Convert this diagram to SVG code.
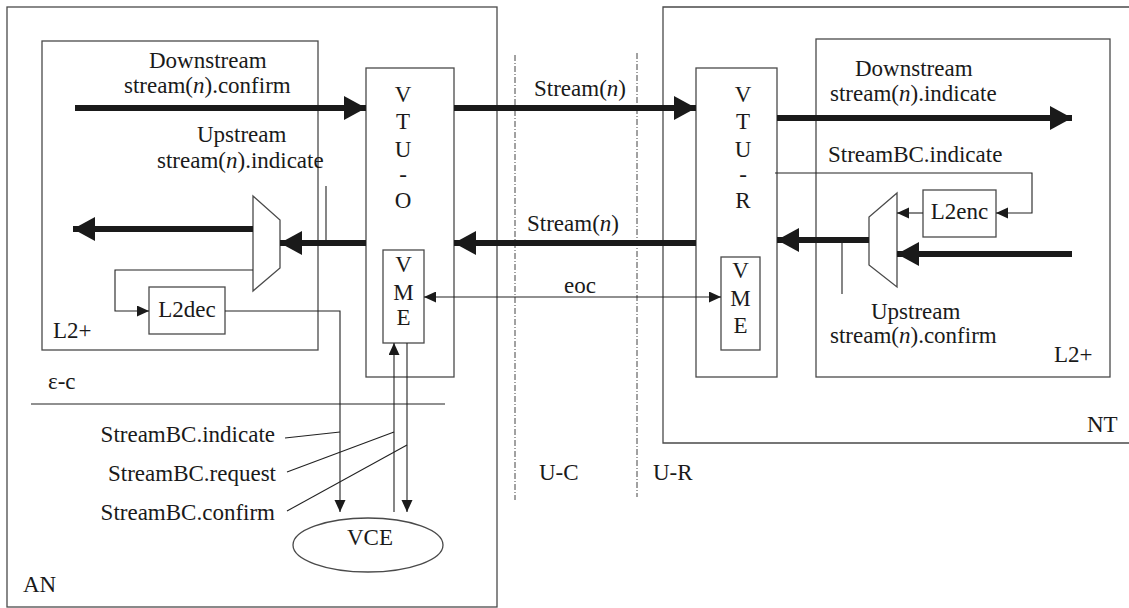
<svg xmlns="http://www.w3.org/2000/svg" width="1129" height="608" viewBox="0 0 1129 608">
<style>
  .box { fill: none; stroke: #4a4a4a; stroke-width: 1.3; }
  .thin { fill: none; stroke: #222; stroke-width: 1.1; }
  .thick { fill: none; stroke: #1a1a1a; stroke-width: 6; }
  .dd { fill: none; stroke: #444; stroke-width: 1; stroke-dasharray: 6 2 1 2; }
  .c { text-anchor: middle; }
  .e { text-anchor: end; }
</style>
<defs>
  <marker id="big" markerUnits="userSpaceOnUse" markerWidth="24" markerHeight="26" refX="22" refY="12" orient="auto">
    <path d="M0,0 L22,12 L0,24 Z" fill="#1a1a1a"/>
  </marker>
  <marker id="small" markerUnits="userSpaceOnUse" markerWidth="14" markerHeight="12" refX="12" refY="5.5" orient="auto">
    <path d="M0,0 L12,5.5 L0,11 Z" fill="#1a1a1a"/>
  </marker>
  <marker id="smallStart" markerUnits="userSpaceOnUse" markerWidth="14" markerHeight="12" refX="0" refY="5.5" orient="auto">
    <path d="M12,0 L0,5.5 L12,11 Z" fill="#1a1a1a"/>
  </marker>
</defs>

<rect width="1129" height="608" fill="#fff"/>

<g font-family="'Liberation Serif', serif" font-size="23" fill="#1a1a1a">

<!-- Access node and network termination -->
<g id="AN">
  <rect class="box" x="7" y="7" width="490" height="600"/>
  <text x="23" y="592">AN</text>
</g>
<g id="NT">
  <path class="box" d="M1129,7 H663 V443 H1129"/>
  <text x="1087" y="432">NT</text>
</g>

<g id="L2plus-AN">
  <rect class="box" x="42" y="41" width="276" height="309"/>
  <text x="53" y="338">L2+</text>
</g>
<g id="L2plus-NT">
  <rect class="box" x="816" y="39" width="294" height="338"/>
  <text x="1054" y="362">L2+</text>
</g>

<g id="VTU-O">
  <rect class="box" x="366" y="68" width="88" height="309"/>
  <text class="c" x="403" y="102">V</text>
  <text class="c" x="403" y="129">T</text>
  <text class="c" x="403" y="157">U</text>
  <text class="c" x="403" y="182">-</text>
  <text class="c" x="403" y="208">O</text>
</g>
<g id="VME-O">
  <rect class="box" x="383" y="250" width="41" height="93"/>
  <text class="c" x="403.5" y="272">V</text>
  <text class="c" x="403.5" y="300">M</text>
  <text class="c" x="403.5" y="325">E</text>
</g>

<g id="VTU-R">
  <rect class="box" x="696" y="68" width="81" height="309"/>
  <text class="c" x="743" y="102">V</text>
  <text class="c" x="743" y="129">T</text>
  <text class="c" x="743" y="157">U</text>
  <text class="c" x="743" y="182">-</text>
  <text class="c" x="743" y="208">R</text>
</g>
<g id="VME-R">
  <rect class="box" x="721" y="257" width="39" height="93"/>
  <text class="c" x="740.5" y="278">V</text>
  <text class="c" x="740.5" y="306">M</text>
  <text class="c" x="740.5" y="333">E</text>
</g>

<g id="mux-AN">
  <path class="box" d="M253,196 L280,220 L280,268 L253,291 Z"/>
</g>
<g id="mux-NT">
  <path class="box" d="M897,193 L869,217 L869,265 L897,287 Z"/>
</g>

<g id="L2dec">
  <rect class="box" x="149" y="287" width="76" height="47"/>
  <text class="c" x="187" y="317">L2dec</text>
</g>
<g id="L2enc">
  <rect class="box" x="923" y="190" width="73" height="47"/>
  <text class="c" x="959.5" y="219">L2enc</text>
</g>

<g id="VCE">
  <ellipse class="box" cx="368" cy="545" rx="75" ry="27"/>
  <text class="c" x="370" y="545">VCE</text>
</g>

<!-- Reference points -->
<g id="ref-points">
  <line class="dd" x1="515" y1="55" x2="515" y2="500"/>
  <line class="dd" x1="637" y1="53" x2="637" y2="497"/>
  <text x="539" y="480">U-C</text>
  <text x="653" y="480">U-R</text>
  <line class="thin" x1="31" y1="404" x2="445" y2="404"/>
  <text x="48" y="389">ε-c</text>
</g>

<g id="connectors">
  <!-- data paths -->
  <line class="thick" x1="75" y1="108" x2="366" y2="108" marker-end="url(#big)"/>
  <line class="thick" x1="454" y1="108" x2="696" y2="108" marker-end="url(#big)"/>
  <line class="thick" x1="777" y1="118" x2="1072" y2="118" marker-end="url(#big)"/>
  <line class="thick" x1="696" y1="243" x2="454" y2="243" marker-end="url(#big)"/>
  <line class="thick" x1="366" y1="243" x2="280" y2="243" marker-end="url(#big)"/>
  <line class="thick" x1="253" y1="229" x2="73" y2="229" marker-end="url(#big)"/>
  <line class="thick" x1="869" y1="240" x2="777" y2="240" marker-end="url(#big)"/>
  <line class="thick" x1="1072" y1="254" x2="897" y2="254" marker-end="url(#big)"/>

  <!-- tick marks on upstream paths -->
  <line class="thin" x1="326" y1="186" x2="326" y2="240"/>
  <line class="thin" x1="842" y1="240" x2="842" y2="294"/>

  <!-- broadcast control paths -->
  <polyline class="thin" points="253,270 115,270 115,311 149,311" marker-end="url(#small)"/>
  <polyline class="thin" points="225,311 340,311 340,512" marker-end="url(#small)"/>
  <line class="thin" x1="394" y1="512" x2="394" y2="343" marker-end="url(#small)"/>
  <line class="thin" x1="407" y1="343" x2="407" y2="512" marker-end="url(#small)"/>
  <polyline class="thin" points="775,173 1032,173 1032,213 996,213" marker-end="url(#small)"/>
  <line class="thin" x1="923" y1="213" x2="897" y2="213" marker-end="url(#small)"/>

  <!-- eoc -->
  <line class="thin" x1="424" y1="297" x2="721" y2="297" marker-start="url(#smallStart)" marker-end="url(#small)"/>

  <!-- primitive leaders -->
  <line class="thin" x1="285" y1="438" x2="340" y2="432"/>
  <line class="thin" x1="287" y1="472" x2="394" y2="432"/>
  <line class="thin" x1="287" y1="511" x2="407" y2="445"/>
</g>

<g id="labels">
  <text x="149" y="68">Downstream</text>
  <text x="124" y="93">stream(<tspan font-style="italic">n</tspan>).confirm</text>
  <text x="197" y="142">Upstream</text>
  <text x="157" y="168">stream(<tspan font-style="italic">n</tspan>).indicate</text>
  <text class="c" x="580" y="96">Stream(<tspan font-style="italic">n</tspan>)</text>
  <text class="c" x="573" y="231">Stream(<tspan font-style="italic">n</tspan>)</text>
  <text class="c" x="580" y="293">eoc</text>
  <text x="855" y="76">Downstream</text>
  <text x="830" y="101">stream(<tspan font-style="italic">n</tspan>).indicate</text>
  <text x="828" y="162">StreamBC.indicate</text>
  <text x="871" y="319">Upstream</text>
  <text x="830" y="343">stream(<tspan font-style="italic">n</tspan>).confirm</text>
  <text class="e" x="275" y="442">StreamBC.indicate</text>
  <text class="e" x="276" y="481">StreamBC.request</text>
  <text class="e" x="275" y="520">StreamBC.confirm</text>
</g>

</g>
</svg>
